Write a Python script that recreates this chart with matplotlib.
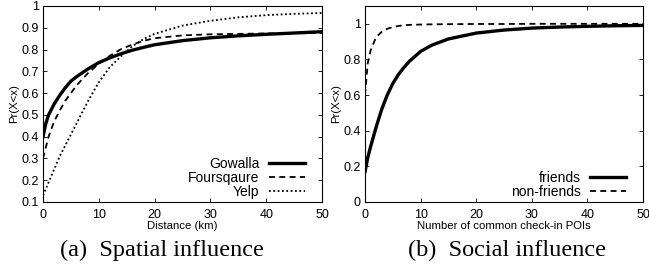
import matplotlib
matplotlib.use("Agg")
import matplotlib.pyplot as plt

# Spatial influence (CDF of distance)
dist_x = [0, 0.5, 1, 2, 3, 4, 5, 6, 8, 10, 12, 14, 16, 18, 20, 25, 30, 35, 40, 45, 50]
gowalla = [0.40, 0.46, 0.50, 0.55, 0.59, 0.625, 0.655, 0.675, 0.71, 0.74,
           0.762, 0.781, 0.797, 0.810, 0.822, 0.841, 0.854, 0.863, 0.870, 0.876, 0.882]
foursquare = [0.30, 0.35, 0.40, 0.47, 0.52, 0.565, 0.60, 0.635, 0.69, 0.735,
              0.772, 0.802, 0.823, 0.840, 0.852, 0.865, 0.870, 0.872, 0.874, 0.875, 0.876]
yelp = [0.13, 0.16, 0.19, 0.25, 0.31, 0.36, 0.41, 0.46, 0.56, 0.65,
        0.72, 0.77, 0.815, 0.848, 0.872, 0.91, 0.932, 0.948, 0.958, 0.964, 0.968]

# Social influence (CDF of common check-in POIs)
poi_x = [0, 0.5, 1, 2, 3, 4, 5, 6, 7, 8, 10, 12, 15, 20, 25, 30, 35, 40, 45, 50]
friends = [0.17, 0.25, 0.31, 0.42, 0.52, 0.60, 0.665, 0.715, 0.755, 0.79, 0.845,
           0.88, 0.915, 0.948, 0.965, 0.976, 0.982, 0.986, 0.989, 0.991]
non_friends = [0.60, 0.78, 0.85, 0.925, 0.955, 0.972, 0.982, 0.988, 0.992, 0.994,
               0.996, 0.997, 0.998, 0.999, 0.999, 1.0, 1.0, 1.0, 1.0, 1.0]

W, H = 649, 272
fig = plt.figure(figsize=(W / 100, H / 100), dpi=100)
sans = "Liberation Sans"
serif = "Liberation Serif"

DASH = (0, (3.3, 2.4))
DOT = (0, (1, 1.4))


def style(ax):
    ax.tick_params(direction="in", top=True, right=True, length=3, width=0.6,
                   labelsize=9)
    ax.tick_params(axis="x", pad=5)
    ax.tick_params(axis="y", pad=3)
    for lab in ax.get_xticklabels() + ax.get_yticklabels():
        lab.set_fontfamily(sans)
    for s in ax.spines.values():
        s.set_linewidth(0.8)


def add_legend(ax):
    ax.legend(loc="lower right", bbox_to_anchor=(1 - 11 / 279, -0.013),
              frameon=False, markerfirst=False,
              prop={"family": sans, "size": 10}, handlelength=2.66,
              labelspacing=0.0, borderaxespad=0.0, handletextpad=0.65)


ax1 = fig.add_axes([43 / W, 70 / H, 279 / W, 196 / H])
ax1.plot(dist_x, gowalla, color="black", lw=2.4, label="Gowalla")
ax1.plot(dist_x, foursquare, color="black", lw=1.3, ls=DASH, label="Foursqaure")
ax1.plot(dist_x, yelp, color="black", lw=1.3, ls=DOT, label="Yelp")
ax1.set_xlim(0, 50)
ax1.set_ylim(0.1, 1)
ax1.set_xticks([0, 10, 20, 30, 40, 50])
ax1.set_yticks([0.1, 0.2, 0.3, 0.4, 0.5, 0.6, 0.7, 0.8, 0.9, 1])
ax1.set_yticklabels(["0.1", "0.2", "0.3", "0.4", "0.5", "0.6", "0.7", "0.8", "0.9", "1"])
ax1.set_xlabel("Distance (km)", fontsize=8.2, fontfamily=sans, labelpad=0)
ax1.set_ylabel("Pr(X<x)", fontsize=8.2, fontfamily=sans, labelpad=2)
style(ax1)
add_legend(ax1)

ax2 = fig.add_axes([365 / W, 70 / H, 278 / W, 196 / H])
ax2.plot(poi_x, friends, color="black", lw=2.4, label="friends")
ax2.plot(poi_x, non_friends, color="black", lw=1.3, ls=DASH, label="non-friends")
ax2.set_xlim(0, 50)
ax2.set_ylim(0, 1.1)
ax2.set_xticks([0, 10, 20, 30, 40, 50])
ax2.set_yticks([0, 0.2, 0.4, 0.6, 0.8, 1])
ax2.set_yticklabels(["0", "0.2", "0.4", "0.6", "0.8", "1"])
ax2.set_xlabel("Number of common check-in POIs", fontsize=8.2, fontfamily=sans, labelpad=0)
ax2.set_ylabel("Pr(X<x)", fontsize=8.2, fontfamily=sans, labelpad=2)
style(ax2)
add_legend(ax2)

fig.text(162 / W, 1 - 250 / H, "(a)  Spatial influence", fontfamily=serif,
         fontsize=17.5, ha="center", va="center")
fig.text(507 / W, 1 - 250 / H, "(b)  Social influence", fontfamily=serif,
         fontsize=17.5, ha="center", va="center")

fig.savefig("out.png", dpi=100)
